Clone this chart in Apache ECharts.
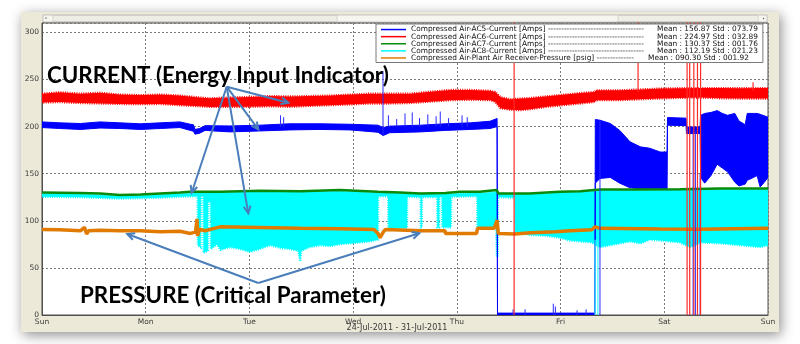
<!DOCTYPE html>
<html><head><meta charset="utf-8">
<script src="https://cdn.jsdelivr.net/npm/echarts@6.0.0/dist/echarts.min.js"></script>
<style>html,body{margin:0;padding:0;background:#fff;}#c{width:800px;height:344px;}</style>
</head><body><div id="c"></div>
<script>
// ---------- data (x in days from Sun 24-Jul-2011) ----------
const dayLabels = ['Sun','Mon','Tue','Wed','Thu','Fri','Sat','Sun'];
const dateRange = '24-Jul-2011 - 31-Jul-2011';

const seriesNames = ['Compressed Air-AC5-Current [Amps]','Compressed Air-AC6-Current [Amps]','Compressed Air-AC7-Current [Amps]','Compressed Air-AC8-Current [Amps]','Compressed Air-Plant Air Receiver-Pressure [psig]'];
const seriesMeans = ['156.87','224.97','130.37','112.19','090.30'];
const seriesStds  = ['073.79','032.89','001.76','021.23','001.92'];

// AC6 (red) band
const ac6X  = [0,0.17,0.37,0.56,0.75,0.95,1.14,1.33,1.52,1.62,1.81,2.0,2.2,2.39,2.58,2.78,2.97,3.16,3.35,3.55,3.74,3.94,4.13,4.32,4.37,4.42,4.51,4.61,4.71,4.87,5.09,5.19,5.33,5.34,5.57,5.77,5.96,6.15,6.35,6.54,6.73,6.92,7.0];
const ac6Hi = [235,236.5,235,236,234,233.5,234,233,231,230,231,231.5,232.5,232,232.5,233,234,235,235,235,237,239,239,238,236.8,231.5,229,229.8,230.5,232.2,234.5,235.7,236.8,238.5,238.6,239.5,240.4,240.8,241,241,240.8,241,241];
const ac6Lo = [225.5,226,225,224.5,224,223.8,224,222.7,221.5,220.9,221,221,221.5,221,222,222.7,223.5,224.5,224.5,225,226.5,228,228.5,228,226.2,219.5,218,217.4,218.5,221,223.5,224.5,226.2,228,228,229,229.8,230.5,230.8,230,229.8,229.8,229.8];
const ac6Spikes = [[4.552,0,320],[5.747,237,320],[6.22,0,320],[6.245,0,320],[6.285,0,320],[6.32,0,320],[6.35,0,320],[6.856,238,247]];

// AC5 (blue) band
const ac5X  = [0,0.17,0.37,0.56,0.75,0.95,1.14,1.33,1.43,1.46,1.475,1.52,1.572,1.81,2.10,2.39,2.68,2.97,3.24,3.29,3.35,3.65,3.89,4.13,4.32,4.388,4.392,5.331,5.335,5.38,5.48,5.57,5.67,5.77,5.86,5.96,6.027,6.031,6.21,6.214,6.345,6.35,6.39,6.45,6.51,6.56,6.61,6.68,6.72,6.78,6.80,6.86,6.895,6.924,6.95,7.0];
const ac5Hi = [205,204,203.3,205,204,203,204,205,202.5,202,197,198,201,200.7,201.5,203,203,202.5,201.5,199,200.5,201.5,203,204,205.7,208.6,2,2,207.5,206.8,203.3,196,183.8,178.5,177,173,173,209.6,209,199.6,199.6,212,214,215,217,214,212,214,206,202,214,214,214,213,212,210];
const ac5Lo = [199,198,197,198.5,198,197,198,199,196,195,192,193,196,194.4,195.4,196.5,197,196.5,194,190.5,193.5,194.4,196,197,198,200,0,0,140,145,146,140,135,134,134,134,134,201.5,201,192.7,192.7,146,140,148,160,156,152,141,137,139,143,146,148,136,139,146];
const ac5Spikes = [[2.30,200,212],[2.33,200,210],[3.288,190,259],[3.34,200,212],[3.42,200,208],[3.50,200,214],[3.57,200,215],[3.64,200,209],[3.72,200,213],[3.80,200,211],[3.84,200,216],[3.92,200,209],[4.05,200,212],[4.10,200,210],[4.542,0,6],[4.658,0,6],[4.93,0,12],[4.95,0,9],[5.159,0,5],[5.246,0,6],[5.38,0,206],[6.278,0,195],[6.30,0,195],[6.345,0,150]];

// AC7 (green) line
const ac7X = [0,0.37,0.56,0.75,0.95,1.14,1.33,1.43,1.72,2.10,2.49,2.87,3.24,3.45,3.65,3.89,4.03,4.22,4.385,4.40,4.70,4.99,5.19,5.38,5.77,6.15,6.54,7.0];
const ac7Y = [130,129.5,129,127.5,128,129,130,130.8,130.8,132,131.5,132.6,130.8,130,129,129.5,130.8,130.8,132.6,129,129,130.8,131.5,133.3,133.3,133.5,134.3,134.3];

// AC8 (cyan) band
const ac8X  = [0,0.37,0.75,0.95,1.14,1.33,1.49,1.50,1.502,1.53,1.532,1.555,1.557,1.60,1.602,1.625,1.627,1.69,1.72,1.81,1.91,2.0,2.1,2.2,2.3,2.39,2.47,2.49,2.50,2.58,2.68,2.78,2.87,2.97,3.07,3.16,3.24,3.242,3.337,3.339,3.52,3.522,3.65,3.652,3.662,3.664,3.81,3.812,3.83,3.832,3.857,3.859,3.944,3.946,4.195,4.197,4.38,4.385,4.395,4.397,4.56,4.562,4.70,4.87,4.99,5.09,5.19,5.30,5.38,5.48,5.57,5.67,5.77,5.86,5.96,6.15,6.25,6.35,6.54,6.73,6.92,7.0];
const ac8Hi = [129,128.5,126.5,127,128,129,129.5,129.5,129.5,129.5,129.5,129.5,129.5,129.5,129.5,129.5,129.5,130,130,130,130.5,131,131,131,131,131,130.5,130.5,130.5,131,131,131.5,131.5,131,130.5,130,130,130,130,130,129.5,129.5,128.5,128.5,128.5,128.5,128.5,128.5,128.5,128.5,129,129,129,129,129.5,129.5,130.5,130.5,130.5,129,128.5,128.5,128.5,129,130,130.5,131,131.5,132.5,132.5,132.5,132.5,132.5,132.5,132.5,133,133,133,133.5,133.5,133.5,133.5];
const ac8Lo = [125.5,125,123.5,124,124.5,125.5,126,126,74,72,126,126,66,68,120,120,70,75,69,72,70,67,70,74,71,70,68,57,68,72,74,73,75,76,77,78,80,126,126,92,92,125.5,125,93,93,125,125,93,93,125,125.5,93,93,125.5,126,92,92,62,62,125,124.5,88,85,84,82,79,78,77,72,74,76,78,76,80,79,77,72,77,76,74,72,74];
const ac8Spikes = [[5.333,0,80],[5.36,0,80]];

// Pressure (orange) line
const prX = [0,0.17,0.37,0.41,0.43,0.45,0.56,0.75,0.95,1.14,1.33,1.43,1.48,1.495,1.50,1.52,1.57,1.72,2.1,2.49,2.87,3.2,3.24,3.26,3.29,3.31,3.65,3.886,3.89,4.19,4.2,4.36,4.388,4.40,4.56,4.71,4.95,5.09,5.3,5.333,5.38,5.96,6.35,7.0];
const prY = [90.8,90.5,89.4,93,86,89.5,90,89.4,89.4,88.4,89,86.6,88,102,84,91,89.5,93.6,93,92,91.5,90.8,86.6,82,88,90.8,89.5,89.5,86.6,86.6,92,92,100.7,86.6,85.9,87.3,88.4,89.4,90.5,93.6,92,91.2,91,92];

const colors = ['#0000ff','#ff0000','#0a8a0a','#00ffff','#e07b00'];

// ---------- helpers ----------
function band(name, color, xs, lo, hi, z, fuzzy) {
  const data = xs.map((x, i) => [x, lo[i], hi[i]]);
  const stroke = fuzzy ? { stroke: color, lineWidth: 2.2, lineDash: [1, 1.3] } : { stroke: color, lineWidth: 1 };
  return {
    type: 'custom', name, data, z, clip: true, silent: true,
    itemStyle: { color },
    encode: { x: 0, y: [1, 2] },
    renderItem(params, api) {
      if (params.dataIndex !== 0) return null;
      const pts = [];
      for (let i = 0; i < xs.length; i++) pts.push(api.coord([xs[i], hi[i]]));
      for (let i = xs.length - 1; i >= 0; i--) pts.push(api.coord([xs[i], lo[i]]));
      return { type: 'polygon', shape: { points: pts }, style: Object.assign({ fill: color }, stroke) };
    }
  };
}
function spikeSeries(name, color, list, width, z) {
  const d = [];
  list.forEach(([x, a, b]) => { d.push([x, a], [x, b], [x, '-']); });
  return { type: 'line', name, data: d, showSymbol: false, symbol: 'none', z, silent: true,
    connectNulls: false, lineStyle: { color, width }, itemStyle: { color } };
}
function lineSeries(name, color, xs, ys, width, z) {
  return { type: 'line', name, data: xs.map((x, i) => [x, ys[i]]), showSymbol: false, symbol: 'none', z, silent: true,
    lineStyle: { color, width }, itemStyle: { color } };
}
function fitSize(text, target) {
  const c = document.createElement('canvas').getContext('2d');
  c.font = 'bold 100px Lato';
  return 100 * target / c.measureText(text).width;
}
function arrow(x1, y1, x2, y2) {
  const col = '#4a7ebb', a = Math.atan2(y2 - y1, x2 - x1), L = 8, w = 0.45;
  const p1 = [x2 - L * Math.cos(a - w), y2 - L * Math.sin(a - w)];
  const p2 = [x2 - L * Math.cos(a + w), y2 - L * Math.sin(a + w)];
  return [
    { type: 'line', z: 100, shape: { x1, y1, x2, y2 }, style: { stroke: col, lineWidth: 2 } },
    { type: 'polyline', z: 100, shape: { points: [p1, [x2, y2], p2] }, style: { stroke: col, fill: null, lineWidth: 2 } }
  ];
}

const txtCurrent = 'CURRENT (Energy Input Indicator)';
const txtPressure = 'PRESSURE (Critical Parameter)';

const dashes = ['-'.repeat(36), '-'.repeat(36), '-'.repeat(36), '-'.repeat(36), '-'.repeat(14)];

const chart = echarts.init(document.getElementById('c'), null, { renderer: 'canvas' });
const option = {
  animation: false,
  grid: { left: 42, top: 23, width: 726, height: 292, show: true, backgroundColor: '#fff', borderColor: '#505050', borderWidth: 1 },
  xAxis: {
    type: 'value', min: 0, max: 7, interval: 1,
    axisLine: { show: true, lineStyle: { color: '#505050', width: 1 } },
    axisTick: { show: false },
    axisLabel: { formatter: v => dayLabels[Math.round(v)], fontFamily: 'DejaVu Sans', fontSize: 7.5, color: '#3a3a3a', margin: 3 },
    splitLine: { show: true, lineStyle: { color: '#7a7a7a', type: [2, 2], width: 1 } }
  },
  yAxis: {
    type: 'value', min: 0, max: 310, interval: 50,
    axisLine: { show: true, lineStyle: { color: '#505050', width: 1 } },
    axisTick: { show: false },
    axisLabel: { showMaxLabel: false, fontFamily: 'DejaVu Sans', fontSize: 7.5, color: '#3a3a3a', margin: 3 },
    splitLine: { show: true, lineStyle: { color: '#7a7a7a', type: [2, 2], width: 1 } }
  },
  legend: {
    z: 20, zlevel: 0,
    orient: 'vertical', left: 376, top: 24, padding: [2, 5, 1, 5], itemGap: 0, itemWidth: 25, itemHeight: 1.5,
    backgroundColor: '#fff', borderColor: '#7a7a7a', borderWidth: 1, icon: 'rect', selectedMode: false,
    data: seriesNames.map((n, i) => ({ name: n, itemStyle: { color: colors[i] } })),
    formatter: name => {
      const i = seriesNames.indexOf(name);
      return '{' + (i === 4 ? 'a5' : 'a') + '|' + name + ' ' + dashes[i] + '}{b|Mean : ' + seriesMeans[i] + ' Std : ' + seriesStds[i] + '}';
    },
    textStyle: {
      fontFamily: 'DejaVu Sans', fontSize: 7.4, color: '#111', lineHeight: 7.1,
      rich: {
        a: { width: 246, fontFamily: 'DejaVu Sans', fontSize: 7.4, lineHeight: 7.1, color: '#111' },
        a5: { width: 237, fontFamily: 'DejaVu Sans', fontSize: 7.4, lineHeight: 7.1, color: '#111' },
        b: { fontFamily: 'DejaVu Sans', fontSize: 7.4, lineHeight: 7.1, color: '#111' }
      }
    }
  },
  series: [
    band(seriesNames[3], colors[3], ac8X, ac8Lo, ac8Hi, 2, true),
    band(seriesNames[0], colors[0], ac5X, ac5Lo, ac5Hi, 3, false),
    band(seriesNames[1], colors[1], ac6X, ac6Lo, ac6Hi, 3, true),
    lineSeries(seriesNames[2], colors[2], ac7X, ac7Y, 2.5, 4),
    lineSeries(seriesNames[4], colors[4], prX, prY, 3.5, 5),
    spikeSeries('ac8spk', '#33ffff', ac8Spikes, 1.2, 6),
    spikeSeries('ac5spk', '#2a2aff', ac5Spikes, 1, 6),
    spikeSeries('ac6spk', '#ff2a2a', ac6Spikes, 1.2, 7)
  ],
  graphic: [
    { type: 'rect', z: -1, shape: { x: 21, y: 12, width: 758, height: 320 },
      style: { fill: '#ECE9D8', shadowBlur: 12, shadowColor: 'rgba(0,0,0,0.45)', shadowOffsetX: 2, shadowOffsetY: 3 } },
    { type: 'rect', z: -1, shape: { x: 43, y: 15, width: 724, height: 7 }, style: { fill: '#F6F5F0', stroke: '#A5A5A5', lineWidth: 0.6 } },
    { type: 'rect', z: -1, shape: { x: 53, y: 15.5, width: 284, height: 6 }, style: { fill: '#EEEDE6', stroke: '#BDBBB0', lineWidth: 0.5 } },
    { type: 'rect', z: -1, shape: { x: 618, y: 15.5, width: 140, height: 6 }, style: { fill: '#EEEDE6', stroke: '#BDBBB0', lineWidth: 0.5 } },
    { type: 'polygon', z: -1, shape: { points: [[47, 18.5], [45, 18.5], [46, 17]] }, style: { fill: '#555' } },
    { type: 'polygon', z: -1, shape: { points: [[763, 17.5], [763, 19.5], [764.5, 18.5]] }, style: { fill: '#555' } },
    { type: 'text', z: 50, x: 397, y: 328, style: { text: dateRange, fontFamily: 'DejaVu Sans', fontSize: 8, fill: '#3a3a3a', align: 'center', verticalAlign: 'middle' } },
    { type: 'text', z: 100, x: 47, y: 76, style: { text: txtCurrent, fontFamily: 'Lato', fontWeight: 'bold', fontSize: fitSize(txtCurrent, 342), fill: '#000', align: 'left', verticalAlign: 'middle' } },
    { type: 'text', z: 100, x: 80, y: 296, style: { text: txtPressure, fontFamily: 'Lato', fontWeight: 'bold', fontSize: fitSize(txtPressure, 306), fill: '#000', align: 'left', verticalAlign: 'middle' } },
    ...arrow(226.7, 86.7, 191.7, 192.7),
    ...arrow(226.7, 86.7, 248.3, 213.3),
    ...arrow(226.7, 86.7, 258.3, 129.3),
    ...arrow(226.7, 86.7, 288.3, 102.7),
    ...arrow(258.3, 283, 127.3, 234),
    ...arrow(258.3, 283, 419.3, 233.3)
  ]
};
chart.setOption(option);
</script></body></html>
